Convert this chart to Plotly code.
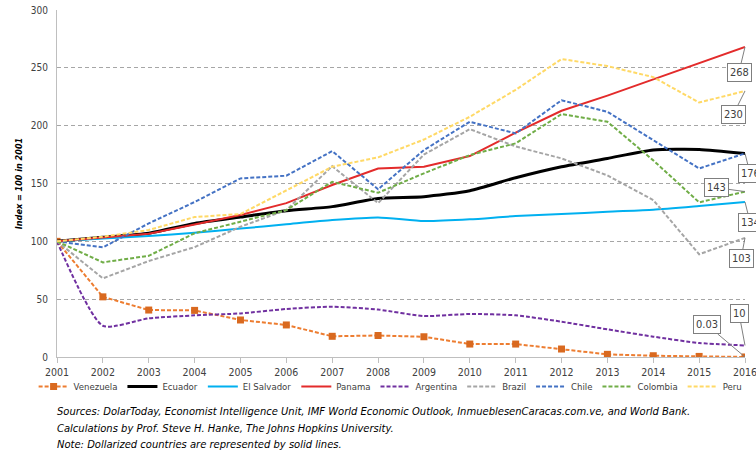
import plotly.graph_objects as go

years = list(range(2001, 2017))

venezuela = [100, 52, 40.6, 40.3, 32, 27.7, 17.9, 18.6, 17.5, 11.2, 11.2, 6.9, 2.3, 1.1, 0.5, 0.03]
ecuador = [100, 103.5, 107, 115.5, 121, 126.5, 130, 137, 138.6, 143.8, 155, 164.5, 171.7, 179, 179.5, 176]
el_salvador = [100, 102.5, 104.6, 107.5, 111, 114.7, 118.4, 120.7, 117.5, 119, 121.9, 123.6, 125.6, 127.3, 130.5, 134]
panama = [100, 103, 106.5, 114.5, 122.7, 133, 148.7, 163, 164.5, 173.7, 193.9, 212.9, 226, 240, 254, 268]
argentina = [100, 27, 33.4, 36, 37.7, 41.5, 43.5, 41, 35.4, 37.2, 36, 30.5, 23.9, 17.6, 12.1, 10]
brazil = [100, 68, 83, 95, 112.6, 127, 165, 133, 175, 197, 182, 171.7, 157, 135.7, 88.8, 103]
chile = [100, 94.8, 115.5, 134, 154.4, 156.7, 178, 145, 178.9, 203.4, 193.3, 222, 212, 187.5, 163, 176]
colombia = [100, 81.8, 87.5, 107, 117, 127, 151.5, 142, 158.8, 174.6, 184.7, 210, 203.4, 170, 133.7, 143]
peru = [100, 104, 109.8, 121, 123.6, 144, 164.5, 172.6, 188, 207.7, 231, 257.6, 251.5, 242, 220, 230]

series = [
    ("Venezuela", venezuela, "#ED7D31", "dash", 2, "linear"),
    ("Ecuador", ecuador, "#000000", "solid", 3, "spline"),
    ("El Salvador", el_salvador, "#00B0F0", "solid", 2, "spline"),
    ("Panama", panama, "#E32B2B", "solid", 2, "linear"),
    ("Argentina", argentina, "#7030A0", "dash", 2, "spline"),
    ("Brazil", brazil, "#A5A5A5", "dash", 2, "linear"),
    ("Chile", chile, "#4472C4", "dash", 2, "linear"),
    ("Colombia", colombia, "#70AD47", "dash", 2, "linear"),
    ("Peru", peru, "#FFD966", "dash", 2, "linear"),
]

end_labels = [
    ("268", 268, -6, 25),
    ("230", 230, -12, 24),
    ("176", 176, 5, 20),
    ("143", 143, -29, -4),
    ("134", 134, 5, 20),
    ("103", 103, -4, 21),
    ("10", 10, -6, -32),
    ("0.03", 0.03, -38, -32),
]

notes = [
    "Sources: DolarToday, Economist Intelligence Unit, IMF World Economic Outlook, InmueblesenCaracas.com.ve, and World Bank.",
    "Calculations by Prof. Steve H. Hanke, The Johns Hopkins University.",
    "Note: Dollarized countries are represented by solid lines.",
]

FONT = "Liberation Sans Narrow, Arial Narrow, DejaVu Sans Condensed, sans-serif"

fig = go.Figure()
for name, vals, color, dash, width, shape in series:
    d = "4px,2px" if dash == "dash" else "solid"
    if name == "Venezuela":
        kw = dict(mode="lines+markers",
                  marker=dict(symbol="square", size=7, color="#D9691F"))
    else:
        kw = dict(mode="lines")
    fig.add_trace(go.Scatter(
        x=years, y=vals, name=name,
        line=dict(color=color, width=width, dash=d, shape=shape, smoothing=0.6),
        **kw))

annotations = []
for txt, val, ax, ay in end_labels:
    annotations.append(dict(
        x=2016, y=val, xref="x", yref="y", text=txt, showarrow=True,
        ax=ax, ay=ay, arrowhead=0, arrowwidth=1, arrowcolor="#7F7F7F",
        bordercolor="#7F7F7F", borderwidth=1, borderpad=2, bgcolor="white",
        font=dict(family=FONT, size=11, color="#404040")))

for i, line in enumerate(notes):
    annotations.append(dict(
        x=-0.003, y=(357 - (412 + 16 * i)) / 347, xref="paper", yref="paper",
        xanchor="left", yanchor="middle", text="<i>" + line + "</i>", showarrow=False,
        font=dict(family=FONT, size=11.1, color="#000000")))

fig.update_layout(
    width=756, height=454,
    margin=dict(l=57, r=11, t=10, b=97),
    paper_bgcolor="white", plot_bgcolor="white",
    font=dict(family=FONT, size=10, color="#404040"),
    showlegend=True,
    legend=dict(orientation="h", x=-0.034, xanchor="left",
                y=-0.085, yanchor="middle",
                font=dict(family=FONT, size=9.5, color="#404040"),
                itemwidth=30, tracegroupgap=0, bgcolor="rgba(0,0,0,0)"),
    annotations=annotations,
    xaxis=dict(range=[2001, 2016], tickmode="array", tickvals=years,
               ticktext=[str(y) for y in years], showgrid=False, tickangle=0,
               ticklabeloverflow="allow",
               showline=True, linecolor="#BFBFBF", linewidth=1,
               ticks="outside", ticklen=5, tickcolor="#BFBFBF",
               tickfont=dict(family=FONT, size=10.5, color="#404040"),
               zeroline=False, fixedrange=True, automargin=False),
    yaxis=dict(range=[0, 300], tickvals=[0, 50, 100, 150, 200, 250, 300],
               showgrid=True, gridcolor="#A6A6A6", griddash="4px,3px", gridwidth=1,
               showline=True, linecolor="#BFBFBF", linewidth=1,
               zeroline=False, ticks="", ticklabelstandoff=6,
               tickfont=dict(family=FONT, size=10, color="#404040"),
               title=dict(text="<b><i>Index = 100 in 2001</i></b>", standoff=6,
                          font=dict(family=FONT, size=9, color="#000000")),
               fixedrange=True, automargin=False),
)

fig.write_html("out.html", config={"displayModeBar": False},
               post_script="document.body.style.margin='0';")
